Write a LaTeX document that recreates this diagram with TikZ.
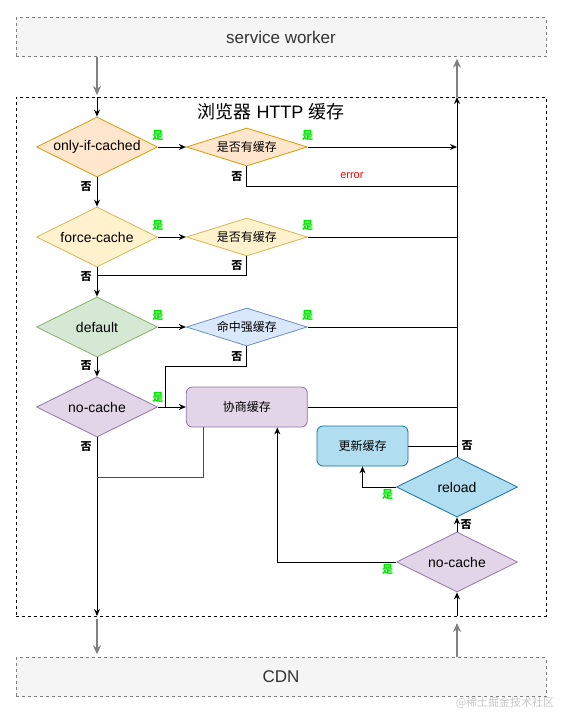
\documentclass[tikz,border=0pt]{standalone}
\usepackage{fontspec}
\setmainfont{Liberation Sans}
\newfontfamily\cjk{Noto Sans CJK SC}
\usepackage{xcolor}
\usepackage{tikz}
\usetikzlibrary{shapes.geometric,arrows.meta,positioning,calc}
\definecolor{orfill}{HTML}{FFE6CC}
\definecolor{ordraw}{HTML}{D79B00}
\definecolor{yefill}{HTML}{FFF2CC}
\definecolor{yedraw}{HTML}{D6B656}
\definecolor{grfill}{HTML}{D5E8D4}
\definecolor{grdraw}{HTML}{82B366}
\definecolor{blfill}{HTML}{DAE8FC}
\definecolor{bldraw}{HTML}{6C8EBF}
\definecolor{pufill}{HTML}{E1D5E7}
\definecolor{pudraw}{HTML}{9673A6}
\definecolor{cyfill}{HTML}{B1DDF0}
\definecolor{cydraw}{HTML}{10739E}
\definecolor{yescol}{HTML}{00E600}
\definecolor{layerfill}{HTML}{F5F5F5}

\begin{document}
\begin{tikzpicture}[x=1pt, y=-1pt, font=\fontsize{14}{16}\selectfont,
  layer/.style={draw=gray, dashed, fill=layerfill, minimum width=530pt, minimum height=39pt, font=\fontsize{17}{19}\selectfont, text=black!80},
  bigd/.style={diamond, draw, aspect=2, inner sep=0pt, minimum width=121pt, minimum height=60pt, line width=0.8pt},
  smalld/.style={diamond, draw, aspect=3.2, inner sep=0pt, minimum width=121pt, minimum height=38pt, line width=0.8pt, font=\cjk\fontsize{12}{14}\selectfont},
  box/.style={draw, rounded corners=6pt, line width=0.8pt, minimum height=40pt, font=\cjk\fontsize{12}{14}\selectfont},
  yeslbl/.style={text=yescol, font=\cjk\bfseries\fontsize{11}{12}\selectfont, inner sep=1pt},
  nolbl/.style={font=\cjk\bfseries\fontsize{11}{12}\selectfont, inner sep=1pt},
  arr/.style={-{Stealth[length=7pt,width=6pt]}, line width=1pt},
  conn/.style={line width=1pt},
  garr/.style={-{Stealth[length=9pt,width=8pt]}, line width=1.5pt, draw=gray}]
\useasboundingbox (0,0) rectangle (563,713);

\node[layer] (sw) at (281,37) {service worker};
\node[layer] (cdn) at (281,677) {CDN};
\node[draw, dashed, minimum width=530pt, minimum height=519pt] (cache) at (281,356.5) {};
\node[font=\fontsize{18}{20}\selectfont] (title) at (271,112) {{\cjk 浏览器} HTTP {\cjk 缓存}};
\coordinate (in) at (97,97);
\coordinate (out) at (457,97);
\coordinate (inb) at (97,616);
\coordinate (outb) at (457,616);

% left column
\node[bigd, fill=orfill, draw=ordraw] (oic) at (97,147) {only-if-cached};
\node[smalld, fill=orfill, draw=ordraw, right=28pt of oic] (has1) {是否有缓存};
\node[bigd, fill=yefill, draw=yedraw] (fc) at (97,237) {force-cache};
\node[smalld, fill=yefill, draw=yedraw, right=28pt of fc] (has2) {是否有缓存};
\node[bigd, fill=grfill, draw=grdraw] (dflt) at (97,327) {default};
\node[smalld, fill=blfill, draw=bldraw, right=28pt of dflt] (strong) {命中强缓存};
\node[bigd, fill=pufill, draw=pudraw] (nc) at (97,407) {no-cache};
\node[box, fill=pufill, draw=pudraw, minimum width=121pt, right=28pt of nc] (nego) {协商缓存};

% right column
\node[box, fill=cyfill, draw=cydraw, minimum width=91pt] (upd) at (362.5,446) {更新缓存};
\node[bigd, fill=cyfill, draw=cydraw] (reload) at (457,487) {reload};
\node[bigd, fill=pufill, draw=pudraw] (nc2) at (457,562) {no-cache};

\draw[garr] (sw.south -| in) -- ([yshift=2pt]in);
\draw[arr] (in) -- (oic.north);
\draw[arr] (oic.east) -- node[yeslbl, at start, above=5pt] {是} (has1.west);
\draw[arr] (has1.east) -- node[yeslbl, at start, above=5pt] {是} (has1.east -| out);
\draw[conn] (has1.south) |- node[nolbl, pos=0.25, left=3pt] {否} node[pos=0.75, above=4pt, text=red, font=\fontsize{11}{13}\selectfont] {error} (457,186);
\draw[arr] (oic.south) -- node[nolbl, pos=0.3, left=4pt] {否} (fc.north);

\draw[arr] (fc.east) -- node[yeslbl, at start, above=5pt] {是} (has2.west);
\draw[conn] (has2.east) -- node[yeslbl, at start, above=5pt] {是} (has2.east -| out);
\draw[conn] (has2.south) |- node[nolbl, pos=0.25, left=3pt] {否} (97,275);
\draw[arr] (fc.south) -- node[nolbl, pos=0.3, left=4pt] {否} (dflt.north);

\draw[arr] (dflt.east) -- node[yeslbl, at start, above=5pt] {是} (strong.west);
\draw[conn] (strong.east) -- node[yeslbl, at start, above=5pt] {是} (strong.east -| out);
\coordinate (kink) at (165,366);
\draw[conn] (strong.south) |- node[nolbl, pos=0.25, left=3pt] {否} (kink) -- (kink |- nc.east);
\draw[arr] (dflt.south) -- node[nolbl, pos=0.45, left=4pt] {否} (nc.north);

\draw[arr] (nc.east) -- node[yeslbl, at start, above=3pt] {是} (nego.west);
\draw[conn] (nego.east) -- (nego.east -| out);
\draw[arr] (nc.south) -- node[nolbl, pos=0.05, left=4pt] {否} (inb);
\draw[conn, draw=black!70] ([xshift=-43pt]nego.south) |- (97,477);
\draw[garr, shorten >=3pt] ([yshift=-3pt]inb) -- (cdn.north -| inb);

\draw[garr, shorten >=2pt] (out) -- (sw.south -| out);
\draw[arr] (reload.north) -- node[nolbl, pos=0.03, right=3pt] {否} (out);
\draw[conn] (upd.east) -- (upd.east -| out);
\draw[arr] (reload.west) -| node[yeslbl, at start, below left=2pt] {是} (upd.south);
\draw[arr] (nc2.west) -| node[yeslbl, at start, below left=2pt] {是} ([xshift=30.5pt]nego.south);
\draw[arr] (nc2.north) -- node[nolbl, right=2pt] {否} (reload.south);
\draw[arr] (outb) -- (nc2.south);
\draw[garr, shorten >=3pt] (cdn.north -| outb) -- ([yshift=-4pt]outb);

\node[text=gray!45, font=\cjk\fontsize{11}{13}\selectfont] (mark) at (505,703) {@稀土掘金技术社区};
\end{tikzpicture}
\end{document}
